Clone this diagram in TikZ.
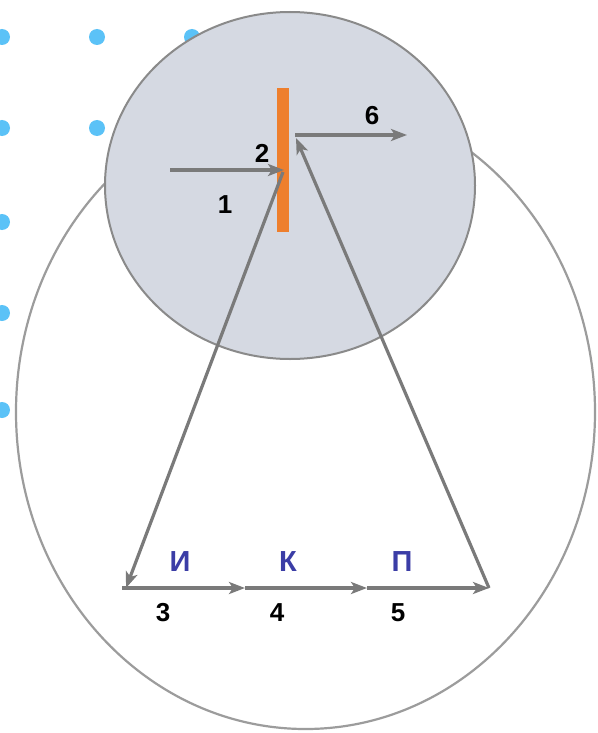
\documentclass[tikz,border=0pt]{standalone}
\usepackage{fontspec}
\setmainfont{Liberation Sans}
\usetikzlibrary{arrows.meta}
\definecolor{dotblue}{HTML}{5BC2F7}
\definecolor{discfill}{HTML}{D5D9E2}
\definecolor{discline}{HTML}{8A8A8A}
\definecolor{arrowgray}{HTML}{7A7A7A}
\definecolor{barorange}{HTML}{EE7F2D}
\definecolor{letterblue}{HTML}{3B3DA6}
\tikzset{
  dotstyle/.style={fill=dotblue, draw=none},
  flow/.style={draw=arrowgray, line width=3.2pt, -{Stealth[length=16pt,width=12pt,inset=4pt]}},
  numlabel/.style={font=\fontsize{26}{28}\selectfont\bfseries, text=black, inner sep=0pt},
  letlabel/.style={font=\fontsize{29}{31}\selectfont\bfseries, text=letterblue, inner sep=0pt}
}
\begin{document}
\begin{tikzpicture}[x=1pt,y=-1pt]
\useasboundingbox (0,0) rectangle (597,733);
\fill[white] (0,0) rectangle (597,733);
% dots
\foreach \px/\py in {2/37, 97/37, 192/37, 2/128, 97/128, 2/222, 2/313, 2/410}
  \fill[dotstyle] (\px,\py) circle (8);
% outer ellipse
\draw[draw=discline!85, line width=2.2pt] (305.5,412) ellipse (289.5 and 317);
% gray disc
\draw[fill=discfill, draw=discline, line width=2pt] (290,185.5) ellipse (185 and 173.5);
% orange bar
\fill[barorange] (277,88) rectangle (289,232);
% coordinates
\coordinate (s1) at (170,170);
\coordinate (e1) at (284,170);
\coordinate (b3) at (122,588);
\coordinate (b4) at (245,588);
\coordinate (b5) at (367,588);
\coordinate (b6) at (489,588);
\coordinate (top) at (296,138);
\coordinate (s6) at (295,135);
\coordinate (e6) at (407,135);
% arrows
\draw[flow] (s1) -- (e1);
\draw[flow] (283,172) -- (126,588);
\draw[flow] (b3) -- (b4);
\draw[flow] (b4) -- (b5);
\draw[flow] (b5) -- (b6);
\draw[flow] (b6) -- (top);
\draw[flow] (s6) -- (e6);
% labels
\node[numlabel] (n1) at (225,205) {1};
\node[numlabel] (n2) at (262,153) {2};
\node[numlabel] (n6) at (372,116) {6};
\node[numlabel] (n3) at (163,613) {3};
\node[numlabel] (n4) at (277,613) {4};
\node[numlabel] (n5) at (398,613) {5};
\node[letlabel] (lI) at (180,562) {И};
\node[letlabel] (lK) at (288,562) {К};
\node[letlabel] (lP) at (402,562) {П};
\end{tikzpicture}
\end{document}
